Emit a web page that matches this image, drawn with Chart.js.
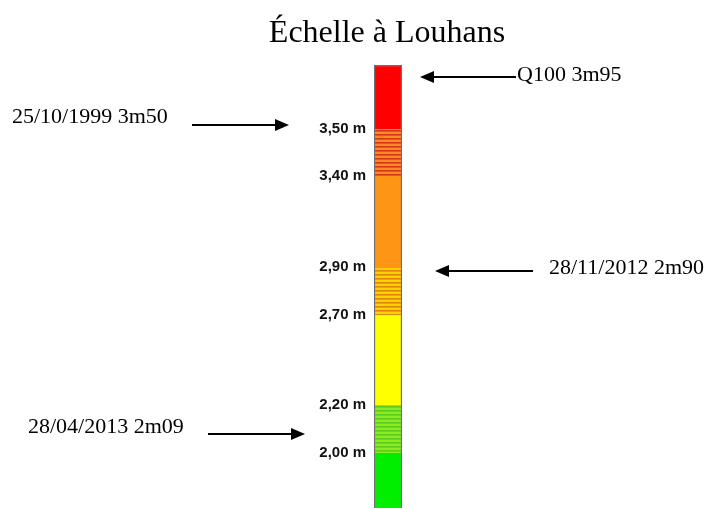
<!DOCTYPE html>
<html>
<head>
<meta charset="utf-8">
<script src="https://cdn.jsdelivr.net/npm/chart.js@4/dist/chart.umd.min.js"></script>
<style>
  body { margin: 0; background: #fff; }
  #cadre { width: 705px; height: 509px; }
</style>
</head>
<body>
<div id="cadre"><canvas id="echelleChart"></canvas></div>
<script>
// niveaux de l'échelle (m)
const titre = "Échelle à Louhans";
const niveaux = [2.00, 2.20, 2.70, 2.90, 3.40, 3.50];
const bandesBas = [1.50, 2.00, 2.20, 2.70, 2.90, 3.40, 3.50];
const bandesHaut = [2.00, 2.20, 2.70, 2.90, 3.40, 3.50, 4.05];
const crues = ["Q100 3m95", "25/10/1999 3m50", "28/11/2012 2m90", "28/04/2013 2m09"];
const cruesHauteurs = [3.95, 3.50, 2.90, 2.09];

// l'échelle du dessin n'est pas linéaire : chaque palier a sa hauteur
const repere = {
    valeurs: [1.50, 2.00, 2.20, 2.70, 2.90, 3.40, 3.50, 4.05],
    fractions: [0, 0.1242, 0.2325, 0.4357, 0.5440, 0.7494, 0.8555, 1]
};

class EchelleScale extends Chart.LinearScale {
    getPixelForValue(value) {
        if (value === null || isNaN(value)) return NaN;
        let v = repere.valeurs, f = repere.fractions;
        let i = 0;
        while (i < v.length - 2 && value > v[i + 1]) i++;
        let dec = f[i] + (value - v[i]) / (v[i + 1] - v[i]) * (f[i + 1] - f[i]);
        return this.getPixelForDecimal(dec);
    }
}
EchelleScale.id = "echelle";
EchelleScale.defaults = Chart.LinearScale.defaults;
Chart.register(EchelleScale);

function rayures(fond, trait) {
    let c = document.createElement("canvas");
    c.width = 4; c.height = 4;
    let g = c.getContext("2d");
    g.fillStyle = fond;
    g.fillRect(0, 0, 4, 4);
    g.fillStyle = trait;
    g.fillRect(0, 2, 4, 1.6);
    return g.createPattern(c, "repeat");
}

let couleurs = [
    "#00ee00",
    rayures("#8cea22", "#5ccc1e"),
    "#ffff00",
    rayures("#ffd200", "#e08410"),
    "#ff9515",
    rayures("#ff8a22", "#d6361a"),
    "#ff0000"
];

let datasets = bandesBas.map((bas, i) => ({
    data: [[bas, bandesHaut[i]]],
    backgroundColor: couleurs[i],
    borderColor: "#6e6e6e",
    borderWidth: { left: 1.5, right: 1.5, top: i === bandesBas.length - 1 ? 1.5 : 0, bottom: 0 },
    borderSkipped: false,
    barPercentage: 1,
    categoryPercentage: 1,
    grouped: false
}));

// titre, flèches et textes des crues
const flechesPlugin = {
    id: "fleches",
    afterDraw(chart) {
        let ctx = chart.ctx;
        let y = chart.scales.y;
        let a = chart.chartArea;
        let dispo = [
            { tx: 517, dt: 4, de: 0, pointe: 420, queue: 516 },
            { tx: 12, dt: -6, de: -4, pointe: 289, queue: 192 },
            { tx: 549, dt: 7, de: 4, pointe: 435, queue: 533 },
            { tx: 28, dt: 2, de: 3, pointe: 305, queue: 208 }
        ];
        ctx.save();
        ctx.fillStyle = "#000";
        ctx.font = '32px "Liberation Serif"';
        ctx.textAlign = "center";
        ctx.textBaseline = "alphabetic";
        ctx.fillText(titre, (a.left + a.right) / 2 - 1, 42);

        crues.forEach((nom, i) => {
            let d = dispo[i];
            let py = y.getPixelForValue(cruesHauteurs[i]);
            let ay = Math.round(py + d.de);
            let sens = d.pointe > d.queue ? 1 : -1;
            ctx.strokeStyle = "#000";
            ctx.lineWidth = 2;
            ctx.beginPath();
            ctx.moveTo(d.queue, ay);
            ctx.lineTo(d.pointe - sens * 10, ay);
            ctx.stroke();
            ctx.beginPath();
            ctx.moveTo(d.pointe, ay);
            ctx.lineTo(d.pointe - sens * 14, ay - 6);
            ctx.lineTo(d.pointe - sens * 14, ay + 6);
            ctx.closePath();
            ctx.fill();
            ctx.font = '22px "Liberation Serif"';
            ctx.textAlign = "left";
            ctx.fillText(nom, d.tx, py + d.dt);
        });
        ctx.restore();
    }
};

let ctx = document.getElementById("echelleChart").getContext("2d");
let echelleChart = new Chart(ctx, {
    type: "bar",
    data: { labels: ["Louhans"], datasets: datasets },
    options: {
        responsive: true,
        maintainAspectRatio: false,
        animation: false,
        events: [],
        layout: { padding: { left: 254, right: 303, top: 65, bottom: 1 } },
        plugins: {
            legend: { display: false },
            tooltip: { enabled: false },
            title: { display: false }
        },
        scales: {
            x: { type: "category", display: false },
            y: {
                type: "echelle",
                position: "left",
                min: 1.50,
                max: 4.05,
                grid: { display: false, drawTicks: false },
                border: { display: false },
                afterBuildTicks: s => { s.ticks = niveaux.map(v => ({ value: v })); },
                afterFit: s => { s.width = 120; s.paddingTop = 0; s.paddingBottom = 0; },
                ticks: {
                    autoSkip: false,
                    padding: 8,
                    color: "#111",
                    font: { family: "Liberation Sans", size: 15, weight: "bold" },
                    callback: v => v.toFixed(2).replace(".", ",") + " m"
                }
            }
        }
    },
    plugins: [flechesPlugin]
});
</script>
</body>
</html>
